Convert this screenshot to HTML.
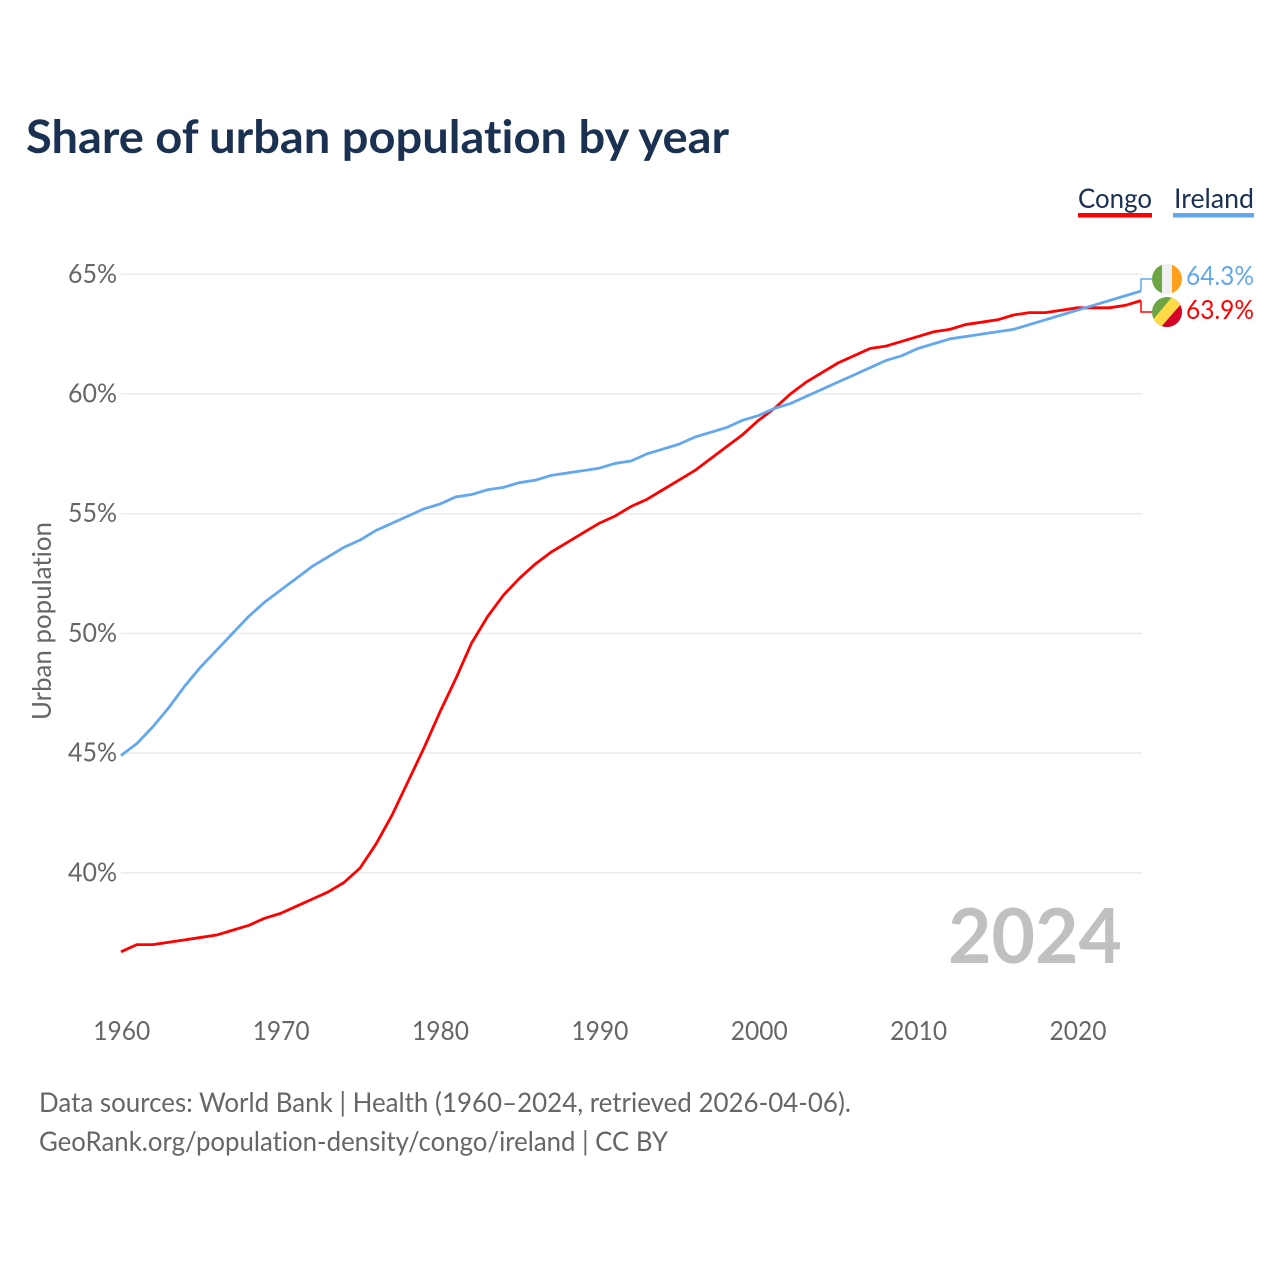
<!DOCTYPE html>
<html lang="en">
<head>
<meta charset="utf-8">
<title>Share of urban population by year</title>
<style>
html,body{margin:0;padding:0;background:#fff;}
svg{display:block;font-family:"Lato","Carlito","Liberation Sans",sans-serif;font-variant-ligatures:none;}
</style>
</head>
<body>
<svg id="chart" xmlns="http://www.w3.org/2000/svg" width="1280" height="1280" viewBox="0 0 1280 1280">
  <rect width="1280" height="1280" fill="#ffffff"/>
  <text x="26" y="153" font-size="46" font-weight="700" fill="#1a3152" textLength="703" lengthAdjust="spacingAndGlyphs">Share of urban population by year</text>

  <g>
    <text x="1078" y="208" font-size="27" fill="#1a3152" textLength="74" lengthAdjust="spacingAndGlyphs">Congo</text>
    <rect x="1078" y="213" width="74" height="4.5" fill="#ff0000"/>
  </g>
  <g>
    <text x="1174" y="208" font-size="27" fill="#1a3152" textLength="80" lengthAdjust="spacingAndGlyphs">Ireland</text>
    <rect x="1173" y="213" width="81" height="4.5" fill="#63a8ec"/>
  </g>

  <g id="grid"></g>
  <g id="yticks"></g>
  <g id="xticks"></g>
  <text transform="translate(51,621) rotate(-90)" text-anchor="middle" font-size="26" fill="#666666" textLength="198" lengthAdjust="spacingAndGlyphs">Urban population</text>

  <text x="1122" y="963" text-anchor="end" font-size="76" font-weight="700" fill="#c0c0c0" textLength="174" lengthAdjust="spacingAndGlyphs">2024</text>

  <g id="series"></g>

  <defs>
    <clipPath id="clip-ie"><circle cx="1167" cy="279" r="15"/></clipPath>
    <clipPath id="clip-cg"><circle cx="1167" cy="312" r="15"/></clipPath>
  </defs>
  <g clip-path="url(#clip-ie)">
    <rect x="1152" y="264" width="10" height="30" fill="#6da544"/>
    <rect x="1162" y="264" width="10" height="30" fill="#f0f0f0"/>
    <rect x="1172" y="264" width="10" height="30" fill="#ff9f1c"/>
  </g>
  <g clip-path="url(#clip-cg)">
    <rect x="1152" y="297" width="30" height="30" fill="#6da544"/>
    <polygon points="1182,297 1182,327 1152,327" fill="#d80027"/>
    <polygon points="1172,297 1182,297 1182,303 1161,327 1152,327 1152,321" fill="#ffda44"/>
  </g>
  <text id="value-ireland" x="1186" y="285" font-size="26" fill="#63a8ec" textLength="68" lengthAdjust="spacingAndGlyphs"></text>
  <text id="value-congo" x="1186" y="319" font-size="26" fill="#ff0000" textLength="68" lengthAdjust="spacingAndGlyphs"></text>

  <text x="39" y="1112" font-size="27" fill="#666666" textLength="812" lengthAdjust="spacingAndGlyphs">Data sources: World Bank | Health (1960–2024, retrieved 2026-04-06).</text>
  <text x="39" y="1151" font-size="27" fill="#666666" textLength="629" lengthAdjust="spacingAndGlyphs">GeoRank.org/population-density/congo/ireland | CC BY</text>
</svg>
<script>
const firstYear = 1960;
const lastYear = 2024;
const yTicks = [40, 45, 50, 55, 60, 65];
const xTicks = [1960, 1970, 1980, 1990, 2000, 2010, 2020];
const ireland = [44.9,45.4,46.1,46.9,47.8,48.6,49.3,50.0,50.7,51.3,51.8,52.3,52.8,53.2,53.6,53.9,54.3,54.6,54.9,55.2,55.4,55.7,55.8,56.0,56.1,56.3,56.4,56.6,56.7,56.8,56.9,57.1,57.2,57.5,57.7,57.9,58.2,58.4,58.6,58.9,59.1,59.4,59.6,59.9,60.2,60.5,60.8,61.1,61.4,61.6,61.9,62.1,62.3,62.4,62.5,62.6,62.7,62.9,63.1,63.3,63.5,63.7,63.9,64.1,64.3];
const congo = [36.7,37.0,37.0,37.1,37.2,37.3,37.4,37.6,37.8,38.1,38.3,38.6,38.9,39.2,39.6,40.2,41.2,42.4,43.8,45.2,46.7,48.1,49.6,50.7,51.6,52.3,52.9,53.4,53.8,54.2,54.6,54.9,55.3,55.6,56.0,56.4,56.8,57.3,57.8,58.3,58.9,59.4,60.0,60.5,60.9,61.3,61.6,61.9,62.0,62.2,62.4,62.6,62.7,62.9,63.0,63.1,63.3,63.4,63.4,63.5,63.6,63.6,63.6,63.7,63.9];

const NS = 'http://www.w3.org/2000/svg';
const plotLeft = 121, plotRight = 1141;
function xScale(year) { return plotLeft + (year - firstYear) * (plotRight - plotLeft) / (lastYear - firstYear); }
function yScale(v) { return 872.8 - (v - 40) * 23.94; }
function make(tag, attrs, parent) {
  const el = document.createElementNS(NS, tag);
  for (const k in attrs) el.setAttribute(k, attrs[k]);
  parent.appendChild(el);
  return el;
}

const grid = document.getElementById('grid');
const yG = document.getElementById('yticks');
const xG = document.getElementById('xticks');
yTicks.forEach(function (t) {
  const line = make('line', {x1: plotLeft, x2: plotRight + 1, y1: yScale(t), y2: yScale(t), stroke: '#ebebeb', 'stroke-width': 1.5}, grid);
  
  
  const label = make('text', {x: 117, y: yScale(t) + 8.5, 'text-anchor': 'end', 'font-size': 26, fill: '#666666', textLength: 49, lengthAdjust: 'spacingAndGlyphs'}, yG);
  
  
  label.textContent = t + '%';
});
xTicks.forEach(function (t) {
  const label = make('text', {x: xScale(t) + 0.8, y: 1040, 'text-anchor': 'middle', 'font-size': 26, fill: '#666666', textLength: 57, lengthAdjust: 'spacingAndGlyphs'}, xG);
  
  
  label.textContent = t;
});

function linePath(values) {
  return values.map(function (v, i) {
    return (i ? 'L' : 'M') + xScale(firstYear + i).toFixed(2) + ' ' + yScale(v).toFixed(2);
  }).join(' ');
}
const seriesG = document.getElementById('series');

const endX = xScale(lastYear);
const connCongo = make('path', {d: 'M' + endX + ' ' + yScale(congo[congo.length - 1]) + ' V312 H1152', fill: 'none', stroke: '#ff0000', 'stroke-width': 1.5}, seriesG);


const connIreland = make('path', {d: 'M' + endX + ' ' + yScale(ireland[ireland.length - 1]) + ' V279 H1152', fill: 'none', stroke: '#63a8ec', 'stroke-width': 1.5}, seriesG);



const lineCongo = make('path', {d: linePath(congo), fill: 'none', stroke: '#ff0000', 'stroke-width': 2.8, 'stroke-linejoin': 'round'}, seriesG);


const lineIreland = make('path', {d: linePath(ireland), fill: 'none', stroke: '#63a8ec', 'stroke-width': 2.8, 'stroke-linejoin': 'round'}, seriesG);



document.getElementById('value-ireland').textContent = ireland[ireland.length - 1].toFixed(1) + '%';
document.getElementById('value-congo').textContent = congo[congo.length - 1].toFixed(1) + '%';
</script>
</body>
</html>
